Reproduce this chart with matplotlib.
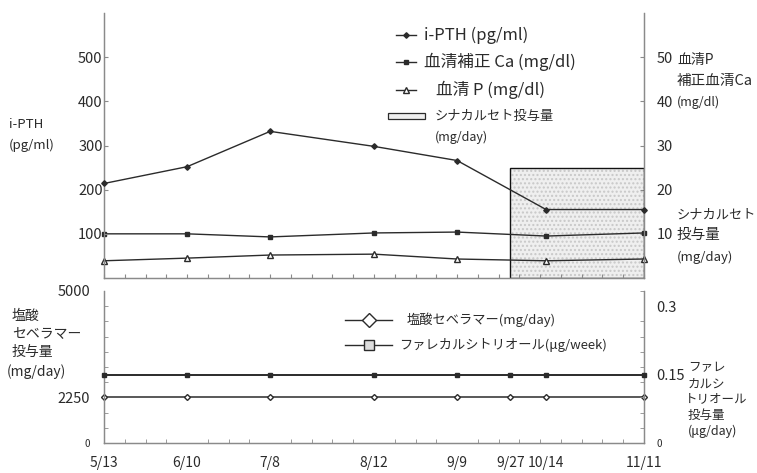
import numpy as np
import matplotlib
matplotlib.use("Agg")
import matplotlib.pyplot as plt
from matplotlib.lines import Line2D
from matplotlib.patches import Rectangle

plt.rcParams["font.family"] = ["Noto Sans CJK JP", "DejaVu Sans"]

# --- data (x = days after 5/13, as placed on the original chart) ---
date_labels = ["5/13", "6/10", "7/8", "8/12", "9/9", "9/27", "10/14", "11/11"]
date_days = [0, 28, 56, 91, 119, 137, 149, 182]

lab_days = [0, 28, 56, 91, 119, 149, 182]            # no lab values on 9/27
ipth = [214, 252, 332, 298, 266, 155, 155]           # pg/ml
ca_corr = [10.0, 10.0, 9.3, 10.2, 10.4, 9.5, 10.2]   # mg/dl
serum_p = [3.9, 4.5, 5.2, 5.4, 4.3, 3.9, 4.3]        # mg/dl

cinacalcet_start, cinacalcet_end = 137, 182          # 9/27 -> 11/11
cinacalcet_dose = 25                                 # mg/day

sevelamer = [2250] * 8                               # mg/day
falecalcitriol = [0.15] * 8                          # ug/day

INK = "#2b2b2b"
SPINE = "#8a8a8a"
W, H = 757, 473


def fx(x):
    return x / W


def fy(y):
    return 1 - y / H


def label(x, y, s, size, **kw):
    fig.text(fx(x), fy(y), s, fontsize=size, color=INK, va="center", **kw)


fig = plt.figure(figsize=(7.57, 4.73), dpi=100)
ax = fig.add_axes([fx(104), fy(278), fx(644) - fx(104), fy(13) - fy(278)])
axr = ax.twinx()
bx = fig.add_axes([fx(104), fy(443), fx(644) - fx(104), fy(291) - fy(443)])
bxr = bx.twinx()

# ---------------- top panel ----------------
span = cinacalcet_end - cinacalcet_start
axr.bar(cinacalcet_start, cinacalcet_dose, width=span, align="edge",
        facecolor="#efefef", edgecolor="none", zorder=1)
axr.bar(cinacalcet_start, cinacalcet_dose, width=span, align="edge", fill=False,
        hatch="....", edgecolor="#c8c8c8", linewidth=0, zorder=1)
axr.bar(cinacalcet_start, cinacalcet_dose, width=span, align="edge", fill=False,
        edgecolor="#111111", linewidth=1.0, zorder=2)
axr.plot(lab_days, ca_corr, color=INK, lw=1.0, marker="s", ms=3.5, mfc=INK, mec=INK,
         clip_on=False, zorder=3)
axr.plot(lab_days, serum_p, color=INK, lw=1.0, marker="^", ms=4, mfc="white", mec=INK,
         clip_on=False, zorder=3)
ax.plot(lab_days, ipth, color=INK, lw=1.0, marker="D", ms=2.8, mfc=INK, mec=INK,
        clip_on=False, zorder=3)
ax.set_zorder(axr.get_zorder() + 1)
ax.patch.set_visible(False)

ax.set_xlim(0, 182)
ax.set_ylim(0, 600)
axr.set_ylim(0, 60)
ax.set_yticks([100, 200, 300, 400, 500])
axr.set_yticks([10, 20, 30, 40, 50])
ax.set_xticks(np.arange(0, 183, 7))
ax.set_xticklabels([])
ax.tick_params(axis="x", direction="in", length=3, color=SPINE)
ax.tick_params(axis="y", direction="in", length=3, color=SPINE, pad=1, labelsize=10.5,
               labelcolor=INK)
axr.tick_params(axis="y", direction="in", length=3, color=SPINE, pad=9, labelsize=10.5,
                labelcolor=INK)
for a in (ax, axr):
    a.spines["top"].set_visible(False)
    for s in ("left", "right", "bottom"):
        a.spines[s].set_color(SPINE)
        a.spines[s].set_linewidth(0.9)

# ---------------- bottom panel ----------------
bx.plot(date_days, sevelamer, color=INK, lw=1.1, marker="D", ms=3, mfc="white", mec=INK,
        clip_on=False, zorder=3)
bxr.plot(date_days, falecalcitriol, color=INK, lw=1.4, marker="s", ms=2.5, mfc=INK,
         mec=INK, clip_on=False, zorder=3)
bx.set_xlim(0, 182)
bx.set_ylim(0, 7500)
bxr.set_ylim(0, 1 / 3)
bx.set_xticks(date_days)
bx.set_xticklabels(date_labels)
bx.set_xticks(np.arange(0, 183, 7), minor=True)
bx.tick_params(axis="x", which="major", length=0, pad=9, labelsize=10, labelcolor=INK)
bx.tick_params(axis="x", which="minor", direction="in", length=3, color=SPINE)
bx.set_yticks([0, 2250, 7500], ["0", "2250", "5000"])
bx.set_yticks(np.arange(0, 7501, 750), minor=True)
bx.tick_params(axis="y", which="major", length=0, pad=10, labelsize=10.5, labelcolor=INK)
bx.tick_params(axis="y", which="minor", direction="in", length=3, color=SPINE)
bxr.set_yticks([0, 0.15, 0.3], ["0", "0.15", "0.3"])
bxr.set_yticks(np.linspace(0, 1 / 3, 11), minor=True)
bxr.tick_params(axis="y", which="major", length=0, pad=9, labelsize=10.5, labelcolor=INK)
bxr.tick_params(axis="y", which="minor", direction="in", length=3, color=SPINE)
for lab in bx.get_yticklabels()[:1] + bxr.get_yticklabels()[:1]:
    lab.set_fontsize(7)
for a in (bx, bxr):
    a.spines["top"].set_visible(False)
    for s in ("left", "right", "bottom"):
        a.spines[s].set_color(SPINE)
        a.spines[s].set_linewidth(0.9)

# ---------------- axis titles ----------------
label(9, 125, "i-PTH", 9.5)
label(9, 145, "(pg/ml)", 9.5)
label(677, 60, "血清P", 10)
label(677, 81, "補正血清Ca", 10.5)
label(677, 102, "(mg/dl)", 9)
label(677, 215, "シナカルセト", 9.5)
label(677, 235, "投与量", 10.5)
label(677, 257, "(mg/day)", 9.5)
label(12, 316, "塩酸", 10)
label(12, 334, "セベラマー", 10)
label(12, 352, "投与量", 10)
label(7, 372, "(mg/day)", 10)
label(688, 368, "ファレ", 9)
label(688, 384, "カルシ", 9)
label(685, 399, "トリオール", 9)
label(688, 415, "投与量", 9)
label(688, 431, "(μg/day)", 9)


# ---------------- legends (drawn by hand, pixel layout of the original) ----------------
def key_line(x0, x1, y, **kw):
    fig.add_artist(Line2D([fx(x0), fx(x1)], [fy(y), fy(y)], color=INK, lw=1.0,
                          transform=fig.transFigure))
    fig.add_artist(Line2D([fx((x0 + x1) / 2)], [fy(y)], linestyle="none", color=INK,
                          transform=fig.transFigure, **kw))


key_line(396, 416, 35, marker="D", ms=2.8, mfc=INK, mec=INK)
label(424, 35, "i-PTH (pg/ml)", 12)
key_line(396, 416, 62, marker="s", ms=3.5, mfc=INK, mec=INK)
label(424, 62, "血清補正 Ca (mg/dl)", 12)
key_line(396, 416, 90, marker="^", ms=4, mfc="white", mec=INK)
label(436, 90, "血清 P (mg/dl)", 12)
fig.add_artist(Rectangle((fx(388), fy(119)), fx(425) - fx(388), fy(113) - fy(119),
                         facecolor="#efefef", edgecolor=INK, lw=0.9,
                         transform=fig.transFigure))
label(435, 116, "シナカルセト投与量", 9.5)
label(435, 137, "(mg/day)", 9)

key_line(345, 392, 320, marker="D", ms=7, mfc="white", mec=INK)
label(407, 320, "塩酸セベラマー(mg/day)", 9.5)
key_line(345, 392, 345, marker="s", ms=7, mfc="#dddddd", mec=INK)
label(399, 345, "ファレカルシトリオール(μg/week)", 9.5)

fig.savefig("out.png", dpi=100)
